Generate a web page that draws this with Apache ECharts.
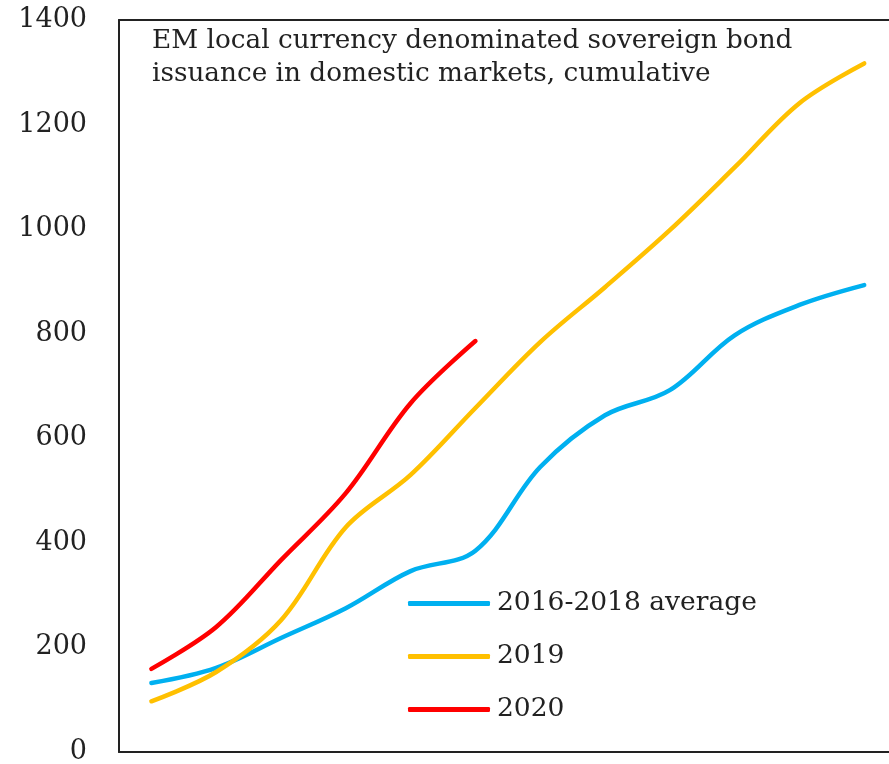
<!DOCTYPE html>
<html>
<head>
<meta charset="utf-8">
<script src="https://cdn.jsdelivr.net/npm/echarts@6/dist/echarts.min.js"></script>
<style>
html,body{margin:0;padding:0;background:#fff;overflow:hidden;}
#chart{width:889px;height:764px;}
</style>
</head>
<body>
<div id="chart"></div>
<script>
const months = ["Jan","Feb","Mar","Apr","May","Jun","Jul","Aug","Sep","Oct","Nov","Dec"];
const avg2016_2018 = [132, 161, 218, 275, 346, 385, 545, 644, 692, 797, 855, 893];
const y2019 = [97, 153, 252, 430, 530, 658, 784, 889, 998, 1118, 1241, 1317];
const y2020 = [159, 239, 367, 495, 667, 786];
const seriesNames = ["2016-2018 average", "2019", "2020"];
const seriesColors = ["#00B0F0", "#FFC000", "#FF0000"];
const yTicks = { min: 0, max: 1400, interval: 200 };
const titleText = "EM local currency denominated sovereign bond\nissuance in domestic markets, cumulative";

const FONT = "DejaVu Serif";
const chart = echarts.init(document.getElementById('chart'), null, {renderer: 'canvas'});
const dataSets = [avg2016_2018, y2019, y2020];
const hiddenX = {
  type: 'category', data: months, boundaryGap: true,
  axisLine: {show: true, onZero: false, lineStyle: {color: '#222', width: 2}},
  axisTick: {show: false}, axisLabel: {show: false}, splitLine: {show: false}
};
chart.setOption({
  animation: false,
  backgroundColor: '#fff',
  title: {
    text: titleText,
    left: 152, top: 25, padding: 0,
    textStyle: {fontFamily: FONT, fontSize: 26.3, fontWeight: 'normal', color: '#222', lineHeight: 33}
  },
  legend: {
    orient: 'vertical',
    left: 408, top: 590, padding: 0,
    itemWidth: 82, itemHeight: 5, itemGap: 26,
    icon: 'roundRect',
    textStyle: {fontFamily: FONT, fontSize: 26.5, color: '#222', lineHeight: 27, padding: [0,0,0,2]},
    data: seriesNames
  },
  grid: {
    left: 119, top: 20, bottom: 12, width: 777.6,
    outerBoundsMode: 'none',
    show: false
  },
  xAxis: [
    Object.assign({position: 'bottom'}, hiddenX),
    Object.assign({position: 'top'}, hiddenX)
  ],
  yAxis: {
    type: 'value', min: yTicks.min, max: yTicks.max, interval: yTicks.interval,
    axisLine: {show: true, lineStyle: {color: '#222', width: 2}},
    axisTick: {show: false}, splitLine: {show: false},
    axisLabel: {fontFamily: FONT, fontSize: 27, color: '#222', margin: 32,
      formatter: v => String(v)}
  },
  graphic: [{
    type: 'rect', right: 0, top: 22, z: 100,
    shape: {width: 6, height: 728},
    style: {fill: '#fff'}
  }],
  series: seriesNames.map((n, i) => ({
    name: n, type: 'line', data: dataSets[i], smooth: 0.35,
    xAxisIndex: 0,
    symbol: 'none', color: seriesColors[i],
    lineStyle: {width: 4.5, color: seriesColors[i], cap: 'round'}
  }))
});
</script>
</body>
</html>
